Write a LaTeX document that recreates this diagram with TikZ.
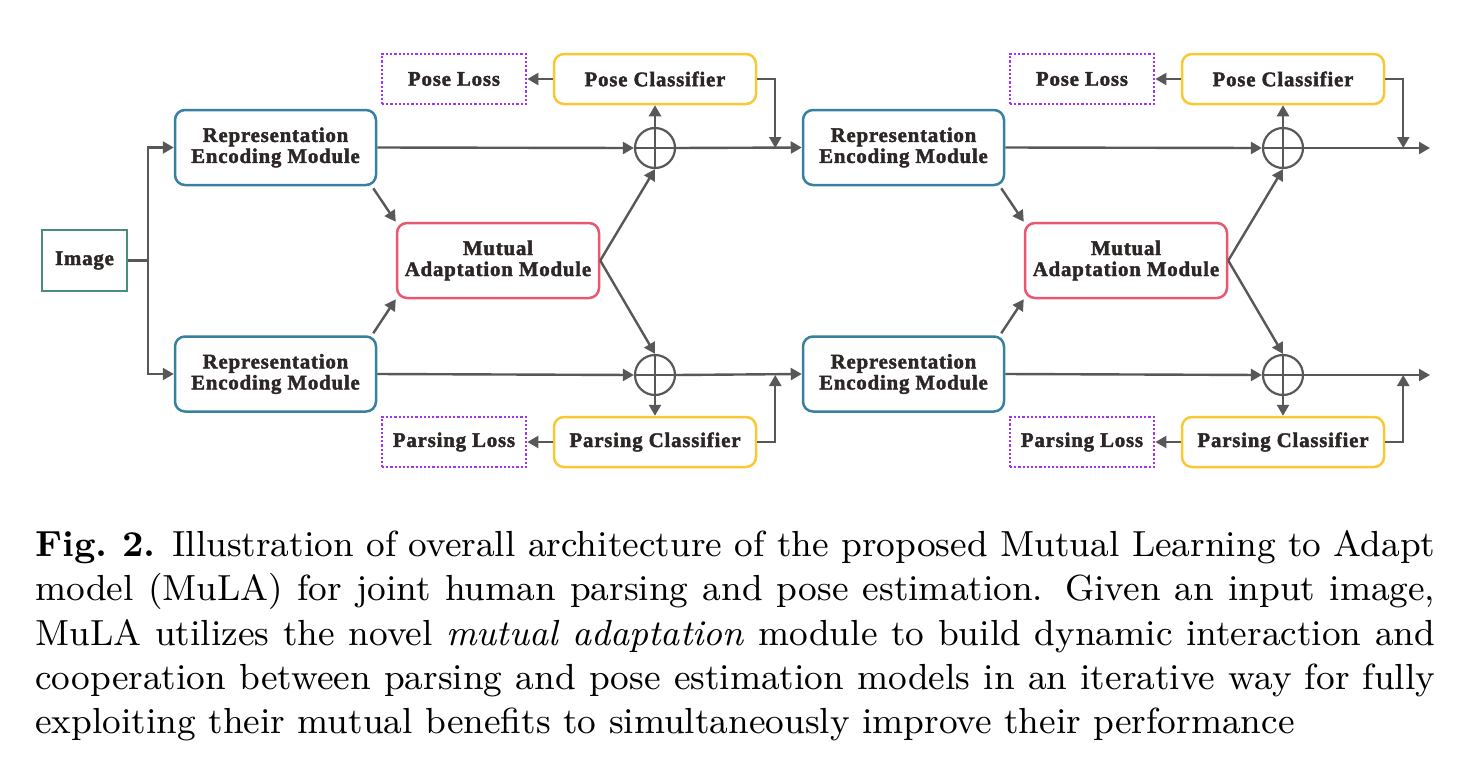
\documentclass[tikz,border=0pt]{standalone}
\usepackage{fontspec}
\newfontfamily\boxfont[LetterSpace=4, BoldFeatures={FakeBold=2}]{Liberation Serif}
\newfontfamily\capfont{lmroman9-regular.otf}[BoldFont=lmroman9-bold.otf, ItalicFont=lmroman9-italic.otf]
\usetikzlibrary{arrows.meta,calc}
\definecolor{arr}{RGB}{88,88,88}
\definecolor{txt}{RGB}{45,38,38}
\definecolor{imgc}{RGB}{74,140,125}
\definecolor{remc}{RGB}{56,128,160}
\definecolor{mamc}{RGB}{232,88,112}
\definecolor{clsc}{RGB}{250,200,50}
\definecolor{lossc}{RGB}{165,50,245}
\begin{document}
\begin{tikzpicture}[x=0.5pt,y=-0.5pt,
  box/.style={draw, line width=1.25pt, align=center, inner sep=0pt,
    font=\boxfont\bfseries\fontsize{10.4}{10.5}\selectfont, text=txt},
  imgbox/.style={box, draw=imgc, minimum width=42.5pt, minimum height=30.5pt},
  rem/.style={box, draw=remc, rounded corners=5pt, minimum width=100.5pt, minimum height=37.5pt},
  mam/.style={box, draw=mamc, rounded corners=5pt, minimum width=101pt, minimum height=37.5pt},
  cls/.style={box, draw=clsc, rounded corners=5pt, minimum width=101pt, minimum height=25pt},
  loss/.style={box, draw=lossc, line width=1.4pt, dash pattern=on 1.1pt off 1pt, minimum width=72pt, minimum height=25pt},
  opl/.style={circle, draw=arr, line width=1.1pt, minimum size=20pt, inner sep=0pt,
    path picture={\draw[arr, line width=1.1pt]
      (path picture bounding box.north) -- (path picture bounding box.south)
      (path picture bounding box.west) -- (path picture bounding box.east);}},
  ln/.style={draw=arr, line width=1.2pt},
  ar/.style={ln, -{Triangle[length=5.5pt,width=6pt]}}
]
\useasboundingbox (0,0) rectangle (1480,772);

\node[imgbox] (img) at (84.5,260.5) {\raisebox{-0.5pt}{Image}};

\foreach \s/\dx in {A/0,B/628}{
  \node[rem] (remT\s) at (275.5+\dx,147.5) {Representation\\Encoding Module};
  \node[rem] (remB\s) at (275.5+\dx,374) {Representation\\Encoding Module};
  \node[mam] (mam\s) at (498+\dx,260.5) {Mutual\\Adaptation Module};
  \node[opl] (oT\s) at (655+\dx,148) {};
  \node[opl] (oB\s) at (655+\dx,375) {};
  \node[cls] (pc\s) at (655+\dx,79) {Pose Classifier};
  \node[loss] (pl\s) at (454+\dx,79) {Pose Loss};
  \node[cls] (qc\s) at (655+\dx,442) {Parsing Classifier};
  \node[loss] (ql\s) at (454+\dx,442) {Parsing Loss};
  \draw[ar] ([shift={(-2pt,-1pt)}]remT\s.south east) -- (mam\s.north west);
  \draw[ar] ([shift={(-2pt,1pt)}]remB\s.north east) -- (mam\s.south west);
  \draw[ar] (mam\s.east) -- (oT\s.south);
  \draw[ar] (mam\s.east) -- (oB\s.north);
  \draw[ar] (remT\s.east) -- (oT\s.west);
  \draw[ar] (remB\s.east) -- (oB\s.west);
  \draw[ar] (oT\s.north) -- (pc\s.south);
  \draw[ar] (oB\s.south) -- (qc\s.north);
  \draw[ar] (pc\s.west) -- (pl\s.east);
  \draw[ar] (qc\s.west) -- (ql\s.east);
  \coordinate (fbT\s) at ([xshift=9pt]pc\s.east |- oT\s.east);
  \coordinate (fbB\s) at ([xshift=9pt]qc\s.east |- oB\s.east);
  \draw[ar] (pc\s.east) -| (fbT\s);
  \draw[ar] (qc\s.east) -| (fbB\s);
}

\coordinate (split) at (148,260.5);
\draw[ln] (img.east) -- (split);
\draw[ar] (split) |- (remTA.west);
\draw[ar] (split) |- (remBA.west);

\draw[ar] (oTA.east) -- (remTB.west);
\draw[ar] (oBA.east) -- (remBB.west);

\coordinate (outT) at (1430,148);
\coordinate (outB) at (1430,375);
\draw[ar] (oTB.east) -- (outT);
\draw[ar] (oBB.east) -- (outB);

\node[anchor=north west, inner sep=0pt, text width=700pt, align=left,
  font=\capfont\fontsize{18.15}{22.2}\selectfont] (cap) at (35,530) {%
\spaceskip=0pt \xspaceskip=0pt
\makebox[700pt][s]{\textbf{Fig.~2.} Illustration of overall architecture of the proposed Mutual Learning to Adapt}\\
\makebox[700pt][s]{model (MuLA) for joint human parsing and pose estimation. Given an input image,}\\
\makebox[700pt][s]{MuLA utilizes the novel \emph{mutual adaptation} module to build dynamic interaction and}\\
\makebox[700pt][s]{cooperation between parsing and pose estimation models in an iterative way for fully}\\
exploiting their mutual benefits to simultaneously improve their performance};
\end{tikzpicture}
\end{document}
